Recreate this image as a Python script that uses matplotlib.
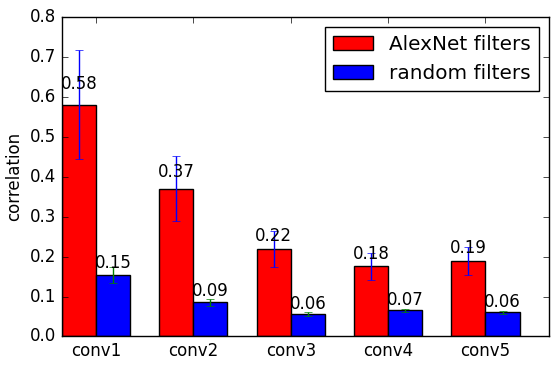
import matplotlib
matplotlib.use("Agg")
import matplotlib.pyplot as plt
import numpy as np

plt.style.use('classic')

layers = ['conv1', 'conv2', 'conv3', 'conv4', 'conv5']
alexnet_mean = [0.580, 0.370, 0.219, 0.176, 0.189]
alexnet_err = [0.136, 0.082, 0.044, 0.034, 0.035]
random_mean = [0.154, 0.086, 0.056, 0.066, 0.061]
random_err = [0.019, 0.009, 0.005, 0.004, 0.004]

ind = np.arange(len(layers))
width = 0.35

fig = plt.figure(figsize=(5.56, 3.68), dpi=100)
ax = fig.add_axes([0.1115, 0.0856, 0.8755, 0.8684])

rects1 = ax.bar(ind, alexnet_mean, width, color='r', yerr=alexnet_err, ecolor='b', align='edge')
rects2 = ax.bar(ind + width, random_mean, width, color='b', yerr=random_err, ecolor='g', align='edge')

ax.set_ylabel('correlation')
ax.set_xticks(ind + width)
ax.set_xticklabels(layers)
ax.set_xlim(0, 5)
ax.set_ylim(0, 0.8)
ax.legend((rects1[0], rects2[0]), ('AlexNet filters', 'random filters'), loc='upper right')


def autolabel(rects):
    for rect in rects:
        h = rect.get_height()
        ax.text(rect.get_x() + rect.get_width() / 2., 1.05 * h, '%.2f' % h,
                ha='center', va='bottom')


autolabel(rects1)
autolabel(rects2)

fig.savefig("out.png", dpi=100)
